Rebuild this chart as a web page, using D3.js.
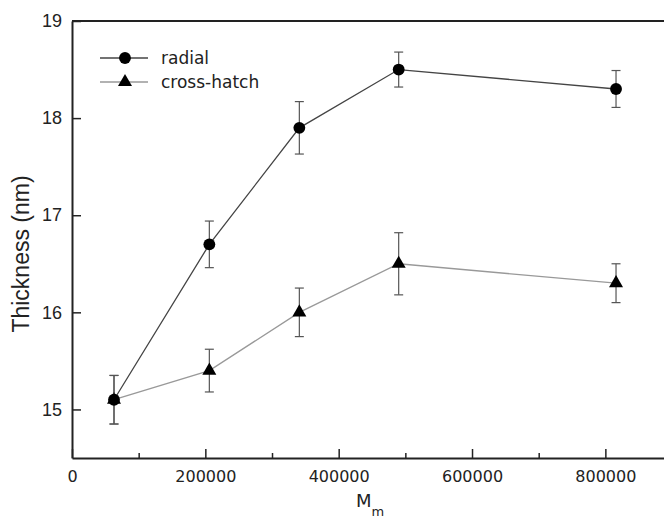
<!DOCTYPE html>
<html>
<head>
<meta charset="utf-8">
<script src="https://cdn.jsdelivr.net/npm/d3@7"></script>
<style>
  body { margin: 0; background: #fff; }
  svg { display: block; }
</style>
</head>
<body>
<svg id="chart" width="664" height="518"></svg>
<script>
// data
var mm = [63000, 206000, 341000, 490000, 816000];
var radial = [15.1, 16.7, 17.9, 18.5, 18.3];
var radialErr = [0.25, 0.24, 0.27, 0.18, 0.19];
var cross = [15.1, 15.4, 16.0, 16.5, 16.3];
var crossErr = [0.25, 0.22, 0.25, 0.32, 0.2];
var xTicks = [0, 200000, 400000, 600000, 800000];
var xMinor = [100000, 300000, 500000, 700000];
var yTicks = [15, 16, 17, 18, 19];

var svg = d3.select("#chart");

var x = d3.scaleLinear().domain([0, 1000000]).range([72, 738.7]);
var y = d3.scaleLinear().domain([14.5, 19]).range([458, 21]);

// frame: top line (right side is off the picture)
svg.append("line")
  .attr("x1", 72).attr("x2", 740)
  .attr("y1", y(19)).attr("y2", y(19))
  .attr("stroke", "#222").attr("stroke-width", 2);

// x axis, ticks inside
var gx = svg.append("g").attr("transform", "translate(0," + y(14.5) + ")");
gx.call(d3.axisBottom(x).tickValues(xTicks).tickSizeInner(-9).tickSizeOuter(0).tickPadding(13)
  .tickFormat(d3.format("d")));
var gxm = svg.append("g").attr("transform", "translate(0," + y(14.5) + ")");
gxm.call(d3.axisBottom(x).tickValues(xMinor).tickSizeInner(-5).tickSizeOuter(0).tickFormat(""));
gxm.select(".domain").remove();
gx.select(".domain").attr("stroke", "#222").attr("stroke-width", 2);
gx.selectAll(".tick line").attr("stroke", "#222").attr("stroke-width", 1.5);
gxm.selectAll(".tick line").attr("stroke", "#222").attr("stroke-width", 1.5);
gx.selectAll("text")
  .attr("font-family", "DejaVu Sans")
  .attr("font-size", 16)
  .attr("fill", "#222");

// y axis, ticks inside
var gy = svg.append("g").attr("transform", "translate(" + x(0) + ",0)");
gy.call(d3.axisLeft(y).tickValues(yTicks).tickSizeInner(-9).tickSizeOuter(0).tickPadding(10)
  .tickFormat(d3.format("d")));
gy.select(".domain").attr("stroke", "#222").attr("stroke-width", 2);
gy.selectAll(".tick line").attr("stroke", "#222").attr("stroke-width", 1.5);
gy.selectAll("text")
  .attr("font-family", "Liberation Sans")
  .attr("font-size", 18)
  .attr("fill", "#222");

// axis titles
svg.append("text")
  .attr("transform", "translate(29,254) rotate(-90)")
  .attr("text-anchor", "middle")
  .attr("font-family", "Liberation Sans")
  .attr("font-size", 23)
  .attr("fill", "#222")
  .text("Thickness (nm)");

var xt = svg.append("text")
  .attr("x", 356)
  .attr("y", 507)
  .attr("font-family", "DejaVu Sans")
  .attr("font-size", 18)
  .attr("fill", "#222");
xt.append("tspan").text("M");
xt.append("tspan").attr("font-size", 13).attr("dy", 9).text("m");

// series
function drawSeries(vals, errs, lineColor, shape) {
  var pts = mm.map(function(d, i) { return [d, vals[i], errs[i]]; });
  var g = svg.append("g");
  // error bars
  var eb = g.selectAll("g.err").data(pts).enter().append("g").attr("class", "err");
  eb.append("line")
    .attr("x1", function(d) { return x(d[0]); })
    .attr("x2", function(d) { return x(d[0]); })
    .attr("y1", function(d) { return y(d[1] + d[2]); })
    .attr("y2", function(d) { return y(d[1] - d[2]); })
    .attr("stroke", "#555").attr("stroke-width", 1.2);
  [1, -1].forEach(function(s) {
    eb.append("line")
      .attr("x1", function(d) { return x(d[0]) - 4.5; })
      .attr("x2", function(d) { return x(d[0]) + 4.5; })
      .attr("y1", function(d) { return y(d[1] + s * d[2]); })
      .attr("y2", function(d) { return y(d[1] + s * d[2]); })
      .attr("stroke", "#555").attr("stroke-width", 1.2);
  });
  // line
  g.append("path")
    .datum(pts)
    .attr("d", d3.line().x(function(d) { return x(d[0]); }).y(function(d) { return y(d[1]); }))
    .attr("fill", "none")
    .attr("stroke", lineColor)
    .attr("stroke-width", 1.3);
  // markers
  g.selectAll("path.mk").data(pts).enter().append("path")
    .attr("class", "mk")
    .attr("d", d3.symbol().type(shape).size(shape === d3.symbolCircle ? 110 : 85))
    .attr("transform", function(d) { return "translate(" + x(d[0]) + "," + y(d[1]) + ")"; })
    .attr("fill", "#000");
}
drawSeries(cross, crossErr, "#999", d3.symbolTriangle);
drawSeries(radial, radialErr, "#444", d3.symbolCircle);

// legend
var legend = [
  { name: "radial", color: "#444", shape: d3.symbolCircle, size: 110, y: 58 },
  { name: "cross-hatch", color: "#999", shape: d3.symbolTriangle, size: 85, y: 82 }
];
var lg = svg.selectAll("g.legend").data(legend).enter().append("g").attr("class", "legend");
lg.append("line")
  .attr("x1", 100).attr("x2", 148)
  .attr("y1", function(d) { return d.y; }).attr("y2", function(d) { return d.y; })
  .attr("stroke", function(d) { return d.color; }).attr("stroke-width", 1.3);
lg.append("path")
  .attr("d", function(d) { return d3.symbol().type(d.shape).size(d.size)(); })
  .attr("transform", function(d) { return "translate(125," + d.y + ")"; })
  .attr("fill", "#000");
lg.append("text")
  .attr("x", 161)
  .attr("y", function(d) { return d.y + 6; })
  .attr("font-family", "DejaVu Sans")
  .attr("font-size", 17)
  .attr("fill", "#222")
  .text(function(d) { return d.name; });
</script>
</body>
</html>
